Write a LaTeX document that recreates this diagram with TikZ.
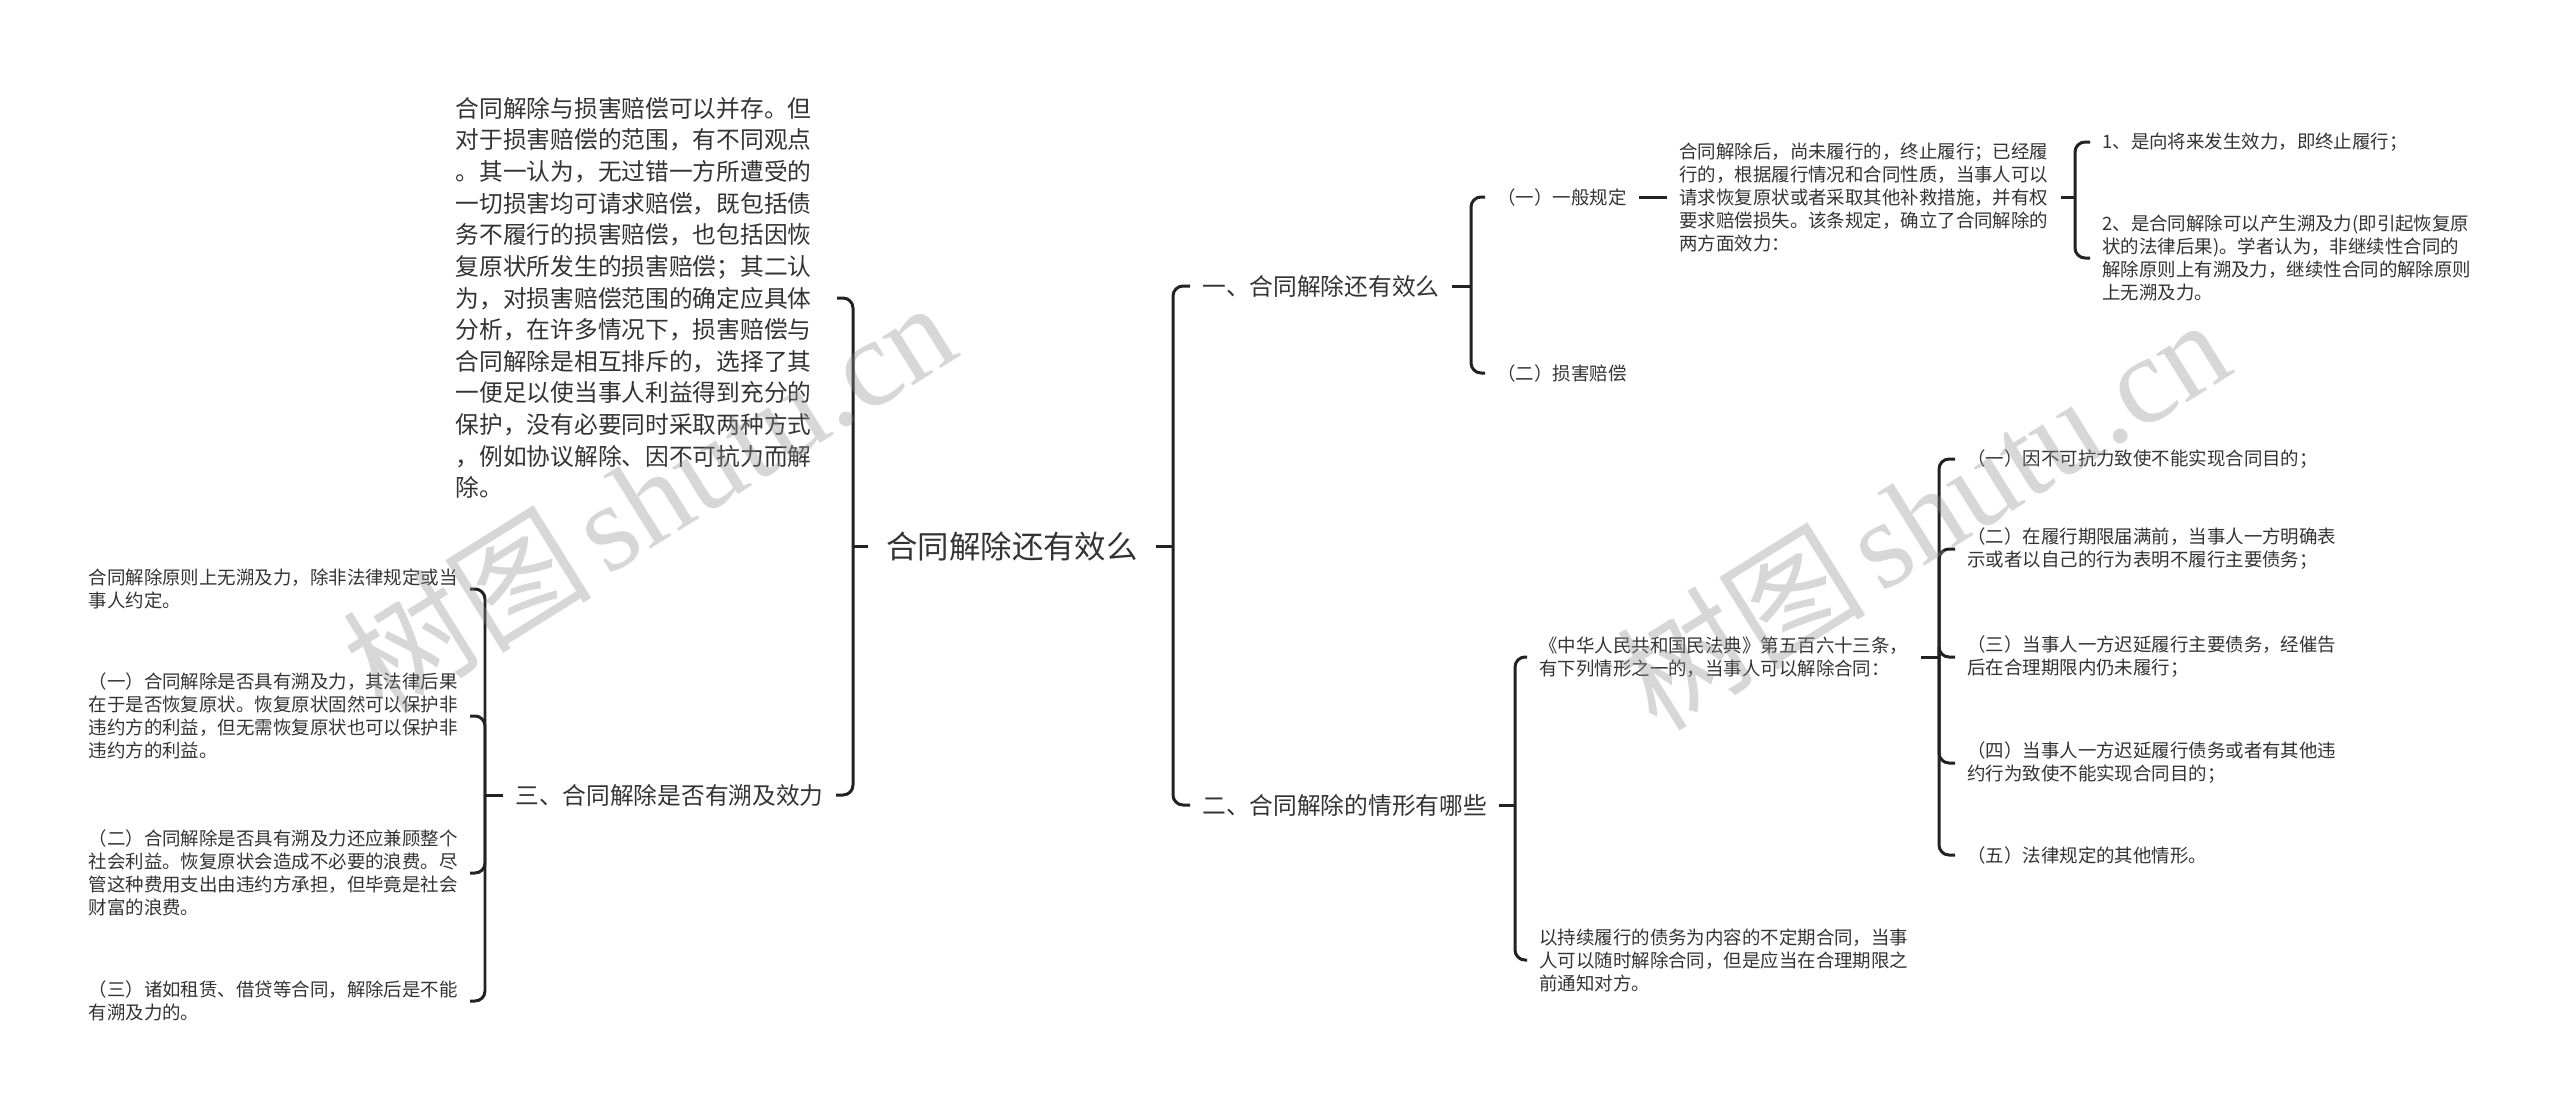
\documentclass[tikz,border=0pt]{standalone}
\usepackage{fontspec}
\setmainfont{Noto Sans CJK SC}
\newfontfamily\wmserif{Liberation Serif}
\usetikzlibrary{positioning, calc}
\definecolor{txt}{HTML}{333333}
\definecolor{ln}{HTML}{222222}

\begin{document}
\begin{tikzpicture}[x=0.02cm,y=-0.02cm,
  conn/.style={draw=ln,line width=1.7pt,rounded corners=5.7pt},
  rootnode/.style={text=txt,font=\fontsize{17.9}{22}\selectfont,inner xsep=10.2pt,inner ysep=2pt},
  lvlone/.style={text=txt,font=\fontsize{13.5}{18}\selectfont,align=left,inner xsep=6.8pt,inner ysep=2pt},
  lvltwo/.style={text=txt,font=\fontsize{10.5}{13.1}\selectfont,align=left,inner xsep=6.8pt,inner ysep=2pt},
  wmark/.style={text=black!45,text opacity=0.35,rotate=32,font=\fontsize{71}{71}\selectfont}]
\useasboundingbox (0,0) rectangle (2560,1113);

% root
\node[rootnode] (root) at (1012,546) {合同解除还有效么};

% left
\node[lvlone,anchor=east,text width=210pt] (p1) at (837,298) {合同解除与损害赔偿可以并存。但\\对于损害赔偿的范围，有不同观点\\。其一认为，无过错一方所遭受的\\一切损害均可请求赔偿，既包括债\\务不履行的损害赔偿，也包括因恢\\复原状所发生的损害赔偿；其二认\\为，对损害赔偿范围的确定应具体\\分析，在许多情况下，损害赔偿与\\合同解除是相互排斥的，选择了其\\一便足以使当事人利益得到充分的\\保护，没有必要同时采取两种方式\\，例如协议解除、因不可抗力而解\\除。};
\node[lvlone,anchor=east] (l3) at (836,795) {三、合同解除是否有溯及效力};
\node[lvltwo,anchor=east] (c1) at (470,589) {合同解除原则上无溯及力，除非法律规定或当\\事人约定。};
\node[lvltwo,anchor=east] (c2) at (470,716) {（一）合同解除是否具有溯及力，其法律后果\\在于是否恢复原状。恢复原状固然可以保护非\\违约方的利益，但无需恢复原状也可以保护非\\违约方的利益。};
\node[lvltwo,anchor=east] (c3) at (470,873) {（二）合同解除是否具有溯及力还应兼顾整个\\社会利益。恢复原状会造成不必要的浪费。尽\\管这种费用支出由违约方承担，但毕竟是社会\\财富的浪费。};
\node[lvltwo,anchor=east] (c4) at (470,1001) {（三）诸如租赁、借贷等合同，解除后是不能\\有溯及力的。};

% right, first branch
\node[lvlone,anchor=west] (r1) at (1190,286) {一、合同解除还有效么};
\node[lvltwo,anchor=west] (gen) at (1485,197) {（一）一般规定};
\node[lvltwo,anchor=west] (dmg) at (1485,373) {（二）损害赔偿};
\node[lvltwo,anchor=west] (pa) at (1667,197) {合同解除后，尚未履行的，终止履行；已经履\\行的，根据履行情况和合同性质，当事人可以\\请求恢复原状或者采取其他补救措施，并有权\\要求赔偿损失。该条规定，确立了合同解除的\\两方面效力：};
\node[lvltwo,anchor=west] (e1) at (2090,142) {1、是向将来发生效力，即终止履行；};
\node[lvltwo,anchor=west] (e2) at (2090,258) {2、是合同解除可以产生溯及力(即引起恢复原\\状的法律后果)。学者认为，非继续性合同的\\解除原则上有溯及力，继续性合同的解除原则\\上无溯及力。};

% right, second branch
\node[lvlone,anchor=west] (r2) at (1190,805) {二、合同解除的情形有哪些};
\node[lvltwo,anchor=west] (mf) at (1527,657) {《中华人民共和国民法典》第五百六十三条，\\有下列情形之一的，当事人可以解除合同：};
\node[lvltwo,anchor=west] (lx) at (1527,960) {以持续履行的债务为内容的不定期合同，当事\\人可以随时解除合同，但是应当在合理期限之\\前通知对方。};
\node[lvltwo,anchor=west] (k1) at (1955,459) {（一）因不可抗力致使不能实现合同目的；};
\node[lvltwo,anchor=west] (k2) at (1955,549) {（二）在履行期限届满前，当事人一方明确表\\示或者以自己的行为表明不履行主要债务；};
\node[lvltwo,anchor=west] (k3) at (1955,657) {（三）当事人一方迟延履行主要债务，经催告\\后在合理期限内仍未履行；};
\node[lvltwo,anchor=west] (k4) at (1955,763) {（四）当事人一方迟延履行债务或者有其他违\\约行为致使不能实现合同目的；};
\node[lvltwo,anchor=west] (k5) at (1955,855) {（五）法律规定的其他情形。};

% spines
\coordinate (sA) at (853,546);
\coordinate (sB) at (1173,546);
\coordinate (sC) at (485,795);
\coordinate (sD) at (1471,286);
\coordinate (sE) at (2075,197);
\coordinate (sF) at (1515,805);
\coordinate (sG) at (1939,657);

% connectors
\draw[conn] (root.west) -- (sA);
\foreach \n in {p1,l3} \draw[conn] (sA) |- (\n.east);
\draw[conn] (l3.west) -- (sC);
\foreach \n in {c1,c2,c3,c4} \draw[conn] (sC) |- (\n.east);
\draw[conn] (root.east) -- (sB);
\foreach \n in {r1,r2} \draw[conn] (sB) |- (\n.west);
\draw[conn] (r1.east) -- (sD);
\foreach \n in {gen,dmg} \draw[conn] (sD) |- (\n.west);
\draw[conn] (gen.east) -- (pa.west);
\draw[conn] (pa.east) -- (sE);
\foreach \n in {e1,e2} \draw[conn] (sE) |- (\n.west);
\draw[conn] (r2.east) -- (sF);
\foreach \n in {mf,lx} \draw[conn] (sF) |- (\n.west);
\draw[conn] (mf.east) -- (sG);
\foreach \n in {k1,k2,k3,k4,k5} \draw[conn] (sG) |- (\n.west);

% watermark
\node[wmark] (wmA) at (648,495) {树图\hspace{0.12em}{\wmserif shutu.cn}};
\node[wmark] (wmB) at (1922,512) {树图\hspace{0.12em}{\wmserif shutu.cn}};
\end{tikzpicture}
\end{document}
